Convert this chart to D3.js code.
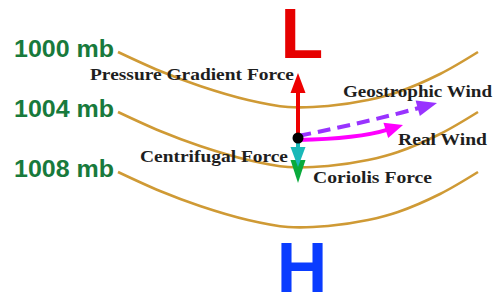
<!DOCTYPE html>
<html>
<head>
<meta charset="utf-8">
<script src="https://cdn.jsdelivr.net/npm/d3@7"></script>
<style>
  html, body { margin: 0; padding: 0; background: #fff; }
  svg { display: block; }
</style>
</head>
<body>
<svg id="chart"></svg>
<script>
// Isobars (mb) and their labels
const isobarPressures = [1000, 1004, 1008];
const isobarLabels = ['1000 mb', '1004 mb', '1008 mb'];
// Shape of each isobar: distance east of the parcel vs. how far it sags south
const isobarAlong = [-180, -138, -98, -50, -10, 30, 70, 100, 142, 180];
const isobarSag = [0, 19, 34, 48, 55, 54, 48, 40, 22, 0];

// Forces acting on the parcel (north-south component, + is south)
const forceNames = ['Coriolis Force', 'Centrifugal Force', 'Pressure Gradient Force'];
const forceDy = [45, 29, -65];

// Winds: end point (east, south) and a bend point for the curved one
const windNames = ['Geostrophic Wind', 'Real Wind'];
const windEndX = [139, 105];
const windEndY = [-35, -13];
const windBendX = [70, 60];
const windBendY = [-16, 1];

const width = 501, height = 295;
const svg = d3.select('#chart').attr('width', width).attr('height', height);

// parcel sits at the origin
const x = d3.scaleLinear().domain([-180, 180]).range([118, 478]);
const y = d3.scaleLinear().domain([-138, 157]).range([0, 295]);
const pressureY = d3.scaleLinear().domain([1000, 1008]).range([-86, 34]);

const isoColor = '#cf9a35';

// isobars
const line = d3.line().x(d => x(d[0])).y(d => y(d[1])).curve(d3.curveCatmullRom.alpha(0.5));
isobarPressures.forEach((p, i) => {
  const pts = isobarAlong.map((a, j) => [a, pressureY(p) + isobarSag[j]]);
  svg.append('path')
    .attr('d', line(pts))
    .attr('fill', 'none')
    .attr('stroke', isoColor)
    .attr('stroke-width', 2.6);
  svg.append('text')
    .attr('x', 14)
    .attr('y', y(pressureY(p)) + 5)
    .attr('font-family', '"Liberation Sans", Arial, sans-serif')
    .attr('font-weight', 'bold')
    .attr('font-size', 24)
    .attr('textLength', 100)
    .attr('lengthAdjust', 'spacingAndGlyphs')
    .attr('fill', '#187a3c')
    .text(isobarLabels[i]);
});

// L and H
const bigFont = '"Liberation Sans", Arial, sans-serif';
svg.append('text').attr('x', 302).attr('y', 58)
  .attr('text-anchor', 'middle').attr('font-family', bigFont).attr('font-weight', 'bold')
  .attr('font-size', 70).attr('fill', '#e60000').text('L');
svg.append('text').attr('x', 302).attr('y', 292)
  .attr('text-anchor', 'middle').attr('font-family', bigFont).attr('font-weight', 'bold')
  .attr('font-size', 70).attr('fill', '#0a3cff').text('H');

// arrowhead helper: tip point, direction, length, half width
function head(tx, ty, dx, dy, len, hw) {
  const m = Math.hypot(dx, dy), ux = dx / m, uy = dy / m;
  const bx = tx - ux * len, by = ty - uy * len;
  return `M${tx},${ty}L${bx - uy * hw},${by + ux * hw}L${bx + uy * hw},${by - ux * hw}Z`;
}

const ox = x(0), oy = y(0);
const forceColors = ['#0aaa3c', '#19b8b8', '#ee0000'];
forceNames.forEach((name, i) => {
  const ty = y(forceDy[i]);
  const dir = Math.sign(forceDy[i]);
  const len = i === 0 ? 23 : 20;
  svg.append('line')
    .attr('x1', ox).attr('y1', oy)
    .attr('x2', ox).attr('y2', ty - dir * (len - 2))
    .attr('stroke', forceColors[i]).attr('stroke-width', 4);
  svg.append('path')
    .attr('d', head(ox, ty, 0, dir, len, 7.5))
    .attr('fill', forceColors[i]);
});

// winds
const windColors = ['#9933ff', '#ff00ff'];
windNames.forEach((name, i) => {
  const ex = x(windEndX[i]), ey = y(windEndY[i]);
  const cx = x(windBendX[i]), cy = y(windBendY[i]);
  const hl = i === 0 ? 20 : 18;
  const m = Math.hypot(ex - cx, ey - cy);
  const sx = ex - (ex - cx) / m * (hl - 3), sy = ey - (ey - cy) / m * (hl - 3);
  const sy0 = i === 0 ? oy - 2 : oy + 2;
  svg.append('path')
    .attr('d', `M${ox},${sy0}Q${cx},${cy} ${sx},${sy}`)
    .attr('fill', 'none')
    .attr('stroke', windColors[i])
    .attr('stroke-width', 4)
    .attr('stroke-dasharray', i === 0 ? '13,7' : null);
  svg.append('path')
    .attr('d', head(ex, ey, ex - cx, ey - cy, hl, 8))
    .attr('fill', windColors[i]);
});

// parcel
svg.append('circle').attr('cx', ox).attr('cy', oy).attr('r', 5.5).attr('fill', '#000');

// labels
const serif = '"Liberation Serif", "Times New Roman", serif';
const labels = [
  ['Pressure Gradient Force', 90, 80, 204],
  ['Geostrophic Wind', 343, 97, 149],
  ['Real Wind', 398, 145, 89],
  ['Centrifugal Force', 140, 162, 148],
  ['Coriolis Force', 313, 183, 119]
];
labels.forEach(([t, lx, ly, tl]) => {
  svg.append('text')
    .attr('x', lx).attr('y', ly)
    .attr('font-family', serif)
    .attr('font-weight', 'bold')
    .attr('font-size', 17)
    .attr('textLength', tl)
    .attr('lengthAdjust', 'spacingAndGlyphs')
    .attr('fill', '#1e1e1e')
    .text(t);
});
</script>
</body>
</html>
